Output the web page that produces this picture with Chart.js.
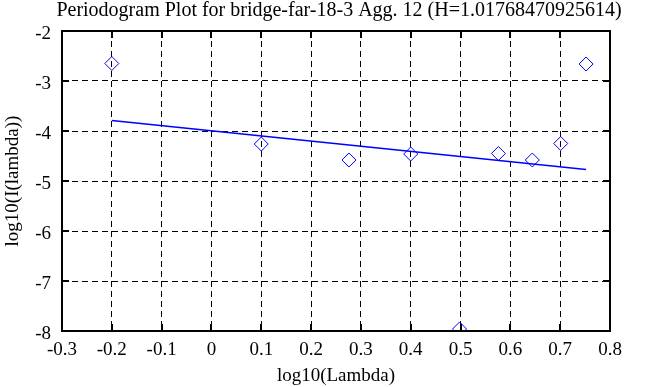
<!DOCTYPE html>
<html>
<head>
  <meta charset="UTF-8">
  <title>Periodogram Plot</title>
  <script src="https://cdn.jsdelivr.net/npm/chart.js"></script>
  <style>
    body { margin: 0; background: #fff; }
    canvas { display: block; }
  </style>
</head>
<body>
  <canvas id="chart" width="668" height="387"></canvas>
  <script>
    const titleText = 'Periodogram Plot for bridge-far-18-3 Agg. 12 (H=1.01768470925614)';

    // log10(Lambda) vs log10(I(lambda)) points
    const logLambda = [-0.2, 0.1, 0.276, 0.4, 0.498, 0.576, 0.644, 0.701, 0.752];
    const logPeriod = [-2.65, -4.26, -4.58, -4.46, -7.96, -4.45, -4.58, -4.25, -2.66];

    // least squares fit line end points
    const fitX = [-0.2, 0.752];
    const fitY = [-3.79, -4.77];

    const xTicks = [-0.3, -0.2, -0.1, 0, 0.1, 0.2, 0.3, 0.4, 0.5, 0.6, 0.7, 0.8];
    const yTicks = [-8, -7, -6, -5, -4, -3, -2];

    const serif = "'Liberation Serif', 'DejaVu Serif', serif";

    // box + inner tick marks on all four sides, title centred over the plot box
    const frame = {
      id: 'frame',
      afterDraw(chart) {
        const { ctx, chartArea: a, scales } = chart;
        ctx.save();
        ctx.strokeStyle = '#000';
        ctx.lineWidth = 2;
        const len = 7;
        ctx.beginPath();
        xTicks.forEach(v => {
          const px = Math.round(scales.x.getPixelForValue(v));
          ctx.moveTo(px, a.bottom); ctx.lineTo(px, a.bottom - len);
          ctx.moveTo(px, a.top); ctx.lineTo(px, a.top + len);
        });
        yTicks.forEach(v => {
          const py = Math.round(scales.y.getPixelForValue(v));
          ctx.moveTo(a.left, py); ctx.lineTo(a.left + len, py);
          ctx.moveTo(a.right, py); ctx.lineTo(a.right - len, py);
        });
        ctx.stroke();
        ctx.strokeRect(a.left, a.top, a.right - a.left, a.bottom - a.top);

        ctx.fillStyle = '#000';
        ctx.font = '20px ' + serif;
        ctx.textAlign = 'center';
        ctx.textBaseline = 'middle';
        ctx.fillText(titleText, (a.left + a.right) / 2 + 3, 11);
        ctx.restore();
      }
    };

    const ctx = document.getElementById('chart').getContext('2d');

    new Chart(ctx, {
      type: 'scatter',
      data: {
        datasets: [
          {
            label: 'fit',
            type: 'line',
            data: fitX.map((x, i) => ({ x: x, y: fitY[i] })),
            borderColor: '#0000ff',
            borderWidth: 1.6,
            pointRadius: 0,
            fill: false
          },
          {
            label: 'periodogram',
            data: logLambda.map((x, i) => ({ x: x, y: logPeriod[i] })),
            pointStyle: 'rectRot',
            pointRadius: 7,
            borderColor: '#0000ff',
            borderWidth: 1,
            backgroundColor: 'rgba(0,0,0,0)'
          }
        ]
      },
      options: {
        responsive: false,
        animation: false,
        layout: { padding: { top: 31, right: 58, bottom: 0, left: 0 } },
        plugins: {
          legend: { display: false },
          tooltip: { enabled: false },
          title: { display: false }
        },
        scales: {
          x: {
            type: 'linear',
            min: -0.3,
            max: 0.8,
            afterBuildTicks: s => { s.ticks = xTicks.map(v => ({ value: v })); },
            afterFit: s => { s.height = 56; },
            ticks: {
              color: '#000',
              padding: 8,
              maxRotation: 0,
              font: { family: serif, size: 19 },
              callback: v => String(Number(v.toFixed(1)))
            },
            grid: {
              color: '#000',
              lineWidth: 1,
              drawTicks: false
            },
            border: { display: false, dash: [6, 4] },
            title: {
              display: true,
              text: 'log10(Lambda)',
              color: '#000',
              font: { family: serif, size: 19 },
              padding: { top: 2, bottom: 0 }
            }
          },
          y: {
            type: 'linear',
            min: -8,
            max: -2,
            afterBuildTicks: s => { s.ticks = yTicks.map(v => ({ value: v })); },
            afterFit: s => { s.width = 62; },
            ticks: {
              color: '#000',
              padding: 11,
              labelOffset: 3,
              font: { family: serif, size: 19 },
              callback: v => String(v)
            },
            grid: {
              color: '#000',
              lineWidth: 1,
              drawTicks: false
            },
            border: { display: false, dash: [6, 4] },
            title: {
              display: true,
              text: 'log10(I(lambda))',
              color: '#000',
              font: { family: serif, size: 19 },
              padding: { top: 2, bottom: 2 }
            }
          }
        }
      },
      plugins: [frame]
    });
  </script>
</body>
</html>
